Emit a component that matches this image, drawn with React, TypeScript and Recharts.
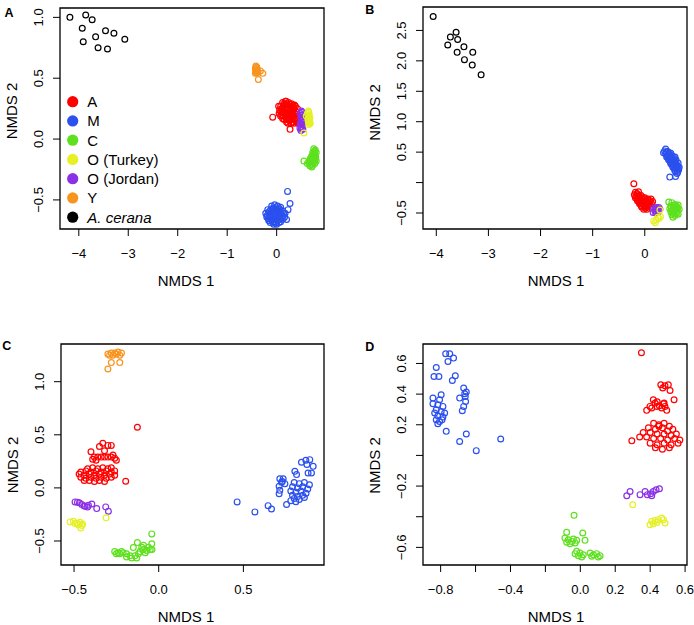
import React from "react";
import { ScatterChart, Scatter, XAxis, YAxis, ReferenceArea } from "recharts";

type P = [number, number];

const FONT = "'Liberation Sans', Arial, Helvetica, sans-serif";

const groupNames = ["A", "M", "C", "O (Turkey)", "O (Jordan)", "Y", "A. cerana"];
const groupColors = ["#FF0000", "#2B50EE", "#5EE01E", "#E5F025", "#8B30E6", "#F7941E", "#000000"];

// ---------------- Panel A ----------------
const pA_A: P[] = [
  [0.12, 0.30], [0.18, 0.31], [0.24, 0.30], [0.30, 0.29], [0.36, 0.28],
  [0.08, 0.27], [0.14, 0.27], [0.20, 0.28], [0.26, 0.27], [0.32, 0.26], [0.38, 0.27], [0.42, 0.25],
  [0.06, 0.24], [0.11, 0.23], [0.17, 0.25], [0.22, 0.24], [0.28, 0.23], [0.34, 0.24], [0.40, 0.22],
  [0.05, 0.21], [0.10, 0.20], [0.16, 0.21], [0.21, 0.20], [0.27, 0.21], [0.33, 0.20], [0.39, 0.19], [0.43, 0.19],
  [0.12, 0.17], [0.18, 0.18], [0.24, 0.17], [0.30, 0.18], [0.36, 0.17], [0.41, 0.16],
  [0.20, 0.14], [0.26, 0.15], [0.32, 0.14], [0.38, 0.15], [0.43, 0.13],
  [0.15, 0.29], [0.21, 0.29], [0.27, 0.285], [0.33, 0.275], [0.11, 0.255], [0.17, 0.26],
  [0.23, 0.255], [0.29, 0.25], [0.35, 0.255], [0.08, 0.225], [0.14, 0.225], [0.20, 0.22],
  [0.25, 0.225], [0.31, 0.22], [0.37, 0.21], [0.08, 0.19], [0.13, 0.19], [0.19, 0.195],
  [0.24, 0.19], [0.30, 0.195], [0.36, 0.19], [0.15, 0.16], [0.21, 0.16], [0.27, 0.165],
  [0.33, 0.16], [0.39, 0.17], [0.23, 0.13], [0.29, 0.13], [0.35, 0.13],
  [-0.08, 0.18], [0.27, 0.08], [0.19, 0.31], [0.04, 0.27],
];
const pA_M: P[] = [
  [-0.10, -0.55], [-0.04, -0.54], [0.02, -0.55], [0.08, -0.56],
  [-0.18, -0.58], [-0.12, -0.58], [-0.06, -0.57], [0.00, -0.58], [0.06, -0.58], [0.12, -0.59],
  [-0.22, -0.61], [-0.16, -0.61], [-0.10, -0.60], [-0.04, -0.61], [0.02, -0.61], [0.08, -0.62], [0.14, -0.61],
  [-0.20, -0.64], [-0.14, -0.64], [-0.08, -0.63], [-0.02, -0.64], [0.04, -0.64], [0.10, -0.65], [0.16, -0.64],
  [-0.16, -0.67], [-0.10, -0.67], [-0.04, -0.68], [0.02, -0.67], [0.08, -0.68],
  [-0.06, -0.70], [0.00, -0.70],
  [-0.07, -0.565], [-0.01, -0.565], [0.05, -0.57], [-0.15, -0.595], [-0.09, -0.59], [-0.03, -0.595],
  [0.03, -0.595], [0.09, -0.60], [-0.19, -0.625], [-0.13, -0.625], [-0.07, -0.62], [-0.01, -0.625],
  [0.05, -0.63], [0.11, -0.63], [-0.17, -0.655], [-0.11, -0.655], [-0.05, -0.655], [0.01, -0.655],
  [0.07, -0.66], [0.13, -0.655], [-0.13, -0.685], [-0.07, -0.685], [-0.01, -0.69], [0.05, -0.685],
  [0.22, -0.43], [0.27, -0.53], [0.23, -0.58], [0.17, -0.61], [0.20, -0.66],
];
const pA_C: P[] = [
  [0.75, -0.08], [0.78, -0.09], [0.73, -0.11], [0.77, -0.12], [0.80, -0.11], [0.71, -0.14],
  [0.75, -0.14], [0.79, -0.15], [0.68, -0.16], [0.72, -0.17], [0.76, -0.17], [0.80, -0.18],
  [0.65, -0.19], [0.69, -0.19], [0.73, -0.20], [0.77, -0.20], [0.67, -0.22], [0.71, -0.23],
  [0.76, -0.10], [0.74, -0.125], [0.78, -0.135], [0.70, -0.155], [0.74, -0.155], [0.78, -0.165],
  [0.67, -0.175], [0.71, -0.18], [0.75, -0.185], [0.69, -0.21], [0.73, -0.215],
  [0.55, -0.18], [0.62, -0.20],
];
const pA_OT: P[] = [
  [0.64, 0.23], [0.62, 0.21], [0.66, 0.20], [0.64, 0.18], [0.67, 0.17], [0.63, 0.16],
  [0.66, 0.15], [0.64, 0.14], [0.68, 0.13], [0.65, 0.12], [0.65, 0.22], [0.65, 0.19],
  [0.65, 0.165], [0.66, 0.135], [0.55, 0.05], [0.60, 0.19],
];
const pA_OJ: P[] = [
  [0.50, 0.23], [0.48, 0.21], [0.52, 0.20], [0.49, 0.18], [0.53, 0.17], [0.50, 0.15], [0.48, 0.13],
  [0.52, 0.12], [0.50, 0.10], [0.47, 0.09], [0.53, 0.08], [0.49, 0.07], [0.51, 0.22], [0.54, 0.14],
  [0.50, 0.195], [0.51, 0.16], [0.50, 0.125], [0.50, 0.085],
];
const pA_Y: P[] = [
  [-0.42, 0.60], [-0.40, 0.59], [-0.43, 0.58], [-0.41, 0.57], [-0.39, 0.57], [-0.42, 0.56],
  [-0.40, 0.55], [-0.43, 0.54], [-0.38, 0.55], [-0.41, 0.585], [-0.415, 0.565], [-0.405, 0.545],
  [-0.28, 0.54], [-0.33, 0.56], [-0.37, 0.49],
];
const pA_Cer: P[] = [
  [-4.18, 1.0], [-3.86, 1.02], [-3.73, 0.98], [-3.93, 0.91], [-3.91, 0.80], [-3.66, 0.84],
  [-3.61, 0.75], [-3.46, 0.89], [-3.42, 0.74], [-3.29, 0.87], [-3.07, 0.82],
];

// ---------------- Panel B ----------------
const pB_A: P[] = [
  [-0.18, -0.16], [-0.12, -0.15], [-0.20, -0.20], [-0.14, -0.20], [-0.08, -0.21],
  [-0.18, -0.25], [-0.12, -0.25], [-0.06, -0.26], [0.00, -0.25], [0.06, -0.27], [0.12, -0.27],
  [-0.14, -0.30], [-0.08, -0.30], [-0.02, -0.31], [0.04, -0.31], [0.10, -0.32], [0.15, -0.31],
  [-0.10, -0.35], [-0.04, -0.35], [0.02, -0.36], [0.08, -0.36], [0.13, -0.35],
  [-0.06, -0.40], [0.00, -0.40], [0.06, -0.40], [-0.02, -0.44], [0.04, -0.44],
  [-0.15, -0.18], [-0.17, -0.225], [-0.11, -0.23], [-0.05, -0.235], [-0.15, -0.275],
  [-0.09, -0.28], [-0.03, -0.28], [0.03, -0.29], [0.09, -0.295], [-0.11, -0.325],
  [-0.05, -0.33], [0.01, -0.335], [0.07, -0.34], [-0.07, -0.375], [-0.01, -0.38],
  [0.05, -0.38], [0.01, -0.42],
  [-0.21, -0.02],
];
const pB_M: P[] = [
  [0.38, 0.52], [0.44, 0.51], [0.50, 0.48], [0.40, 0.47], [0.46, 0.46], [0.52, 0.44], [0.58, 0.42],
  [0.42, 0.42], [0.48, 0.41], [0.54, 0.39], [0.60, 0.37], [0.46, 0.37], [0.52, 0.35], [0.58, 0.33],
  [0.64, 0.32], [0.50, 0.31], [0.56, 0.29], [0.62, 0.27], [0.66, 0.25], [0.54, 0.25], [0.60, 0.23],
  [0.65, 0.21], [0.58, 0.19], [0.63, 0.17], [0.36, 0.49], [0.40, 0.55],
  [0.41, 0.50], [0.47, 0.49], [0.43, 0.445], [0.49, 0.435], [0.55, 0.42], [0.45, 0.395],
  [0.51, 0.38], [0.57, 0.36], [0.49, 0.34], [0.55, 0.32], [0.61, 0.30], [0.53, 0.28],
  [0.59, 0.26], [0.64, 0.245], [0.57, 0.22], [0.62, 0.20],
  [0.48, 0.09], [0.59, 0.10], [0.62, 0.15],
];
const pB_C: P[] = [
  [0.46, -0.32], [0.52, -0.33], [0.58, -0.36], [0.64, -0.37], [0.50, -0.38], [0.56, -0.40],
  [0.62, -0.41], [0.48, -0.43], [0.54, -0.44], [0.60, -0.45], [0.66, -0.44], [0.50, -0.48],
  [0.56, -0.49], [0.62, -0.49], [0.52, -0.53], [0.58, -0.54], [0.64, -0.52], [0.54, -0.57],
  [0.55, -0.375], [0.61, -0.385], [0.51, -0.41], [0.57, -0.42], [0.63, -0.43], [0.53, -0.46],
  [0.59, -0.47], [0.55, -0.51], [0.61, -0.51],
];
const pB_OT: P[] = [
  [0.29, -0.45], [0.17, -0.63], [0.22, -0.61], [0.27, -0.59], [0.20, -0.66], [0.25, -0.57], [0.30, -0.56],
];
const pB_OJ: P[] = [
  [0.17, -0.42], [0.22, -0.41], [0.27, -0.41], [0.19, -0.46], [0.24, -0.45], [0.29, -0.44],
  [0.16, -0.49], [0.21, -0.50], [0.26, -0.48], [0.20, -0.435], [0.25, -0.43], [0.22, -0.475],
];
const pB_Y: P[] = [];
const pB_Cer: P[] = [
  [-4.06, 2.73], [-3.62, 2.47], [-3.73, 2.39], [-3.59, 2.35], [-3.78, 2.26], [-3.47, 2.23],
  [-3.60, 2.14], [-3.30, 2.14], [-3.46, 2.02], [-3.31, 1.93], [-3.14, 1.77],
];

// ---------------- Panel C ----------------
const pC_A: P[] = [
  [-0.42, 0.18], [-0.39, 0.19], [-0.36, 0.18], [-0.33, 0.19], [-0.30, 0.18], [-0.28, 0.19],
  [-0.46, 0.15], [-0.43, 0.16], [-0.40, 0.15], [-0.37, 0.16], [-0.34, 0.15], [-0.31, 0.16], [-0.28, 0.15], [-0.26, 0.16],
  [-0.47, 0.13], [-0.44, 0.12], [-0.41, 0.13], [-0.38, 0.12], [-0.35, 0.13], [-0.32, 0.12], [-0.29, 0.13], [-0.26, 0.12],
  [-0.46, 0.10], [-0.43, 0.09], [-0.40, 0.10], [-0.37, 0.09], [-0.34, 0.10], [-0.31, 0.09], [-0.28, 0.10],
  [-0.44, 0.07], [-0.41, 0.07], [-0.38, 0.06], [-0.35, 0.07], [-0.32, 0.06],
  [-0.33, 0.42], [-0.35, 0.39], [-0.30, 0.40], [-0.28, 0.40], [-0.40, 0.34], [-0.32, 0.35],
  [-0.38, 0.29], [-0.36, 0.29], [-0.34, 0.29], [-0.32, 0.29], [-0.30, 0.29], [-0.28, 0.29],
  [-0.26, 0.28], [-0.27, 0.31], [-0.25, 0.26], [-0.39, 0.27], [-0.37, 0.26],
  [-0.126, 0.571], [-0.195, 0.062],
];
const pC_M: P[] = [
  [0.463, -0.132], [0.568, -0.226], [0.646, -0.167], [0.666, -0.198], [0.755, -0.157],
  [0.715, 0.085], [0.735, 0.085], [0.725, 0.053], [0.711, 0.015], [0.715, -0.023], [0.711, -0.054], [0.745, 0.04], [0.73, 0.06],
  [0.80, 0.05], [0.83, 0.04], [0.86, 0.05], [0.89, 0.03], [0.79, 0.01], [0.82, 0.00], [0.85, 0.01], [0.88, -0.01],
  [0.78, -0.03], [0.81, -0.04], [0.84, -0.03], [0.87, -0.05], [0.79, -0.07], [0.82, -0.08], [0.85, -0.07],
  [0.80, -0.10], [0.83, -0.11], [0.78, -0.12], [0.81, -0.13], [0.86, -0.09],
  [0.843, 0.241], [0.869, 0.26], [0.892, 0.266], [0.912, 0.203], [0.882, 0.141], [0.902, 0.141],
  [0.804, 0.156], [0.814, 0.125], [0.875, 0.22],
];
const pC_C: P[] = [
  [-0.041, -0.433], [-0.041, -0.527], [-0.126, -0.515], [-0.15, -0.562], [-0.09, -0.54],
  [-0.26, -0.60], [-0.24, -0.61], [-0.22, -0.60], [-0.25, -0.62], [-0.23, -0.62], [-0.21, -0.61],
  [-0.19, -0.62], [-0.17, -0.64], [-0.19, -0.65], [-0.16, -0.66], [-0.14, -0.64], [-0.12, -0.62],
  [-0.11, -0.60], [-0.09, -0.58], [-0.07, -0.59], [-0.05, -0.58], [-0.10, -0.56], [-0.06, -0.56],
  [-0.04, -0.58], [-0.13, -0.66], [-0.08, -0.61],
];
const pC_OT: P[] = [
  [-0.523, -0.32], [-0.504, -0.315], [-0.483, -0.33], [-0.464, -0.324], [-0.454, -0.355],
  [-0.474, -0.346], [-0.494, -0.336], [-0.46, -0.377], [-0.311, -0.282], [-0.45, -0.34],
];
const pC_OJ: P[] = [
  [-0.494, -0.132], [-0.468, -0.141], [-0.454, -0.157], [-0.435, -0.173], [-0.415, -0.164],
  [-0.395, -0.151], [-0.366, -0.195], [-0.313, -0.179], [-0.297, -0.22], [-0.44, -0.17],
  [-0.48, -0.135], [-0.42, -0.18],
];
const pC_Y: P[] = [
  [-0.30, 1.26], [-0.28, 1.27], [-0.26, 1.27], [-0.24, 1.28], [-0.23, 1.25], [-0.27, 1.25],
  [-0.29, 1.25], [-0.25, 1.26], [-0.22, 1.27], [-0.28, 1.18], [-0.23, 1.18], [-0.30, 1.12],
];

// ---------------- Panel D ----------------
const pD_A: P[] = [
  [0.35, 0.67],
  [0.461, 0.461], [0.485, 0.455], [0.504, 0.461], [0.514, 0.424], [0.472, 0.44], [0.537, 0.363],
  [0.418, 0.363], [0.38, 0.294], [0.399, 0.32], [0.428, 0.342], [0.438, 0.32], [0.466, 0.309],
  [0.485, 0.32], [0.476, 0.337], [0.495, 0.294], [0.409, 0.309], [0.453, 0.324], [0.48, 0.342], [0.44, 0.35],
  [0.42, 0.21], [0.45, 0.20], [0.48, 0.21], [0.51, 0.19], [0.39, 0.18], [0.43, 0.17], [0.47, 0.18],
  [0.50, 0.16], [0.53, 0.17], [0.36, 0.15], [0.40, 0.15], [0.44, 0.14], [0.48, 0.14], [0.52, 0.13],
  [0.55, 0.14], [0.38, 0.12], [0.42, 0.11], [0.46, 0.11], [0.50, 0.10], [0.54, 0.11], [0.57, 0.10],
  [0.40, 0.08], [0.44, 0.07], [0.48, 0.08], [0.52, 0.07], [0.56, 0.08], [0.43, 0.05], [0.47, 0.04],
  [0.51, 0.05], [0.45, 0.19], [0.34, 0.12],
  [0.295, 0.095],
];
const pD_M: P[] = [
  [-0.771, 0.663], [-0.748, 0.663], [-0.726, 0.635], [-0.758, 0.613], [-0.825, 0.574],
  [-0.838, 0.515], [-0.81, 0.515], [-0.716, 0.52], [-0.733, 0.489],
  [-0.668, 0.44], [-0.653, 0.414], [-0.662, 0.402], [-0.691, 0.374], [-0.659, 0.385],
  [-0.657, 0.352], [-0.668, 0.32], [-0.676, 0.292],
  [-0.844, 0.374], [-0.797, 0.396], [-0.806, 0.363], [-0.844, 0.337], [-0.816, 0.331],
  [-0.787, 0.32], [-0.825, 0.298], [-0.797, 0.287], [-0.777, 0.277], [-0.834, 0.277],
  [-0.816, 0.259], [-0.787, 0.25], [-0.825, 0.233], [-0.806, 0.222], [-0.816, 0.207], [-0.792, 0.233],
  [-0.768, 0.157], [-0.653, 0.14], [-0.691, 0.091], [-0.596, 0.031], [-0.456, 0.107],
];
const pD_C: P[] = [
  [-0.036, -0.391], [-0.078, -0.502], [0.014, -0.506], [0.027, -0.554],
  [-0.088, -0.539], [-0.069, -0.55], [-0.049, -0.561], [-0.03, -0.571], [-0.078, -0.567],
  [-0.059, -0.576], [-0.04, -0.546], [-0.021, -0.554],
  [-0.021, -0.626], [-0.002, -0.637], [0.017, -0.648], [-0.011, -0.654], [0.008, -0.663], [-0.03, -0.641],
  [0.056, -0.637], [0.075, -0.648], [0.094, -0.641], [0.113, -0.654], [0.065, -0.658], [0.103, -0.663],
];
const pD_OT: P[] = [
  [0.30, -0.322], [0.399, -0.452], [0.409, -0.43], [0.428, -0.424], [0.447, -0.419],
  [0.466, -0.408], [0.476, -0.419], [0.485, -0.441], [0.418, -0.446], [0.438, -0.437],
];
const pD_OJ: P[] = [
  [0.266, -0.263], [0.285, -0.235], [0.342, -0.256], [0.371, -0.235], [0.384, -0.256],
  [0.403, -0.25], [0.418, -0.235], [0.434, -0.224], [0.453, -0.217], [0.409, -0.263],
];

// ---------------- Ticks ----------------
const aXTicks = [-4, -3, -2, -1, 0];
const aXTickLabels = ["\u22124", "\u22123", "\u22122", "\u22121", "0"];
const aYTicks = [-0.5, 0, 0.5, 1];
const aYTickLabels = ["\u22120.5", "0.0", "0.5", "1.0"];
const bXTicks = [-4, -3, -2, -1, 0];
const bXTickLabels = ["\u22124", "\u22123", "\u22122", "\u22121", "0"];
const bYTicks = [-0.5, 0, 0.5, 1, 1.5, 2, 2.5];
const bYTickLabels = ["\u22120.5", "", "0.5", "1.0", "1.5", "2.0", "2.5"];
const cXTicks = [-0.5, 0, 0.5];
const cXTickLabels = ["\u22120.5", "0.0", "0.5"];
const cYTicks = [-0.5, 0, 0.5, 1];
const cYTickLabels = ["\u22120.5", "0.0", "0.5", "1.0"];
const dXTicks = [-0.8, -0.6, -0.4, -0.2, 0, 0.2, 0.4, 0.6];
const dXTickLabels = ["\u22120.8", "", "\u22120.4", "", "0.0", "0.2", "0.4", "0.6"];
const dYTicks = [-0.6, -0.4, -0.2, 0, 0.2, 0.4, 0.6];
const dYTickLabels = ["\u22120.6", "", "\u22120.2", "", "0.2", "0.4", "0.6"];

type PanelCfg = {
  letter: string;
  left: number;
  top: number;
  width: number;
  height: number;
  plot: { l: number; r: number; t: number; b: number };
  xDomain: [number, number];
  yDomain: [number, number];
  xTicks: number[];
  xTickLabels: string[];
  yTicks: number[];
  yTickLabels: string[];
  series: P[][];
  letterPos: [number, number];
  xTitleDx: number;
  yTitleDy: number;
  legend?: boolean;
};

// series order: A, M, C, O(Turkey), O(Jordan), Y, A. cerana
const panels: PanelCfg[] = [
  {
    letter: "A", left: 0, top: 0, width: 347, height: 312,
    plot: { l: 60, r: 324, t: 8, b: 229 },
    xDomain: [-4.38, 0.957], yDomain: [-0.739, 1.077],
    xTicks: aXTicks, xTickLabels: aXTickLabels, yTicks: aYTicks, yTickLabels: aYTickLabels,
    series: [pA_A, pA_M, pA_C, pA_OT, pA_OJ, pA_Y, pA_Cer],
    letterPos: [9, 17.3], xTitleDx: -6, yTitleDy: -7.5, legend: true,
  },
  {
    letter: "B", left: 347, top: 0, width: 347, height: 312,
    plot: { l: 76, r: 340, t: 7, b: 229 },
    xDomain: [-4.255, 0.81], yDomain: [-0.763, 2.885],
    xTicks: bXTicks, xTickLabels: bXTickLabels, yTicks: bYTicks, yTickLabels: bYTickLabels,
    series: [pB_A, pB_M, pB_C, pB_OT, pB_OJ, pB_Y, pB_Cer],
    letterPos: [22.8, 13.5], xTitleDx: 1, yTitleDy: -5.5,
  },
  {
    letter: "C", left: 0, top: 312, width: 347, height: 313,
    plot: { l: 61, r: 324, t: 32, b: 253 },
    xDomain: [-0.577, 0.976], yDomain: [-0.726, 1.355],
    xTicks: cXTicks, xTickLabels: cXTickLabels, yTicks: cYTicks, yTickLabels: cYTickLabels,
    series: [pC_A, pC_M, pC_C, pC_OT, pC_OJ, pC_Y, []],
    letterPos: [6.7, 37.8], xTitleDx: -6.5, yTitleDy: 10.5,
  },
  {
    letter: "D", left: 347, top: 312, width: 347, height: 313,
    plot: { l: 76, r: 340, t: 32, b: 253 },
    xDomain: [-0.901, 0.611], yDomain: [-0.715, 0.727],
    xTicks: dXTicks, xTickLabels: dXTickLabels, yTicks: dYTicks, yTickLabels: dYTickLabels,
    series: [pD_A, pD_M, pD_C, pD_OT, pD_OJ, [], []],
    letterPos: [22.8, 38.8], xTitleDx: 1, yTitleDy: 11,
  },
];

const drawOrder = [1, 2, 0, 4, 3, 5, 6];

const circleShape = (color: string) => (props: any) => {
  const { cx, cy } = props;
  if (cx == null || cy == null) return <g />;
  return <circle cx={cx} cy={cy} r={2.9} fill="none" stroke={color} strokeWidth={1.2} />;
};

const findLabel = (ticks: number[], labels: string[], v: number) => {
  const i = ticks.findIndex((t) => Math.abs(t - v) < 1e-6);
  return i >= 0 ? labels[i] : "";
};

const makeXTick = (ticks: number[], labels: string[]) => (props: any) => {
  const { x, y, payload } = props;
  return (
    <text x={x} y={y + 22.2} textAnchor="middle" fontSize={13} fontFamily={FONT} fill="#000">
      {findLabel(ticks, labels, payload.value)}
    </text>
  );
};

const makeYTick = (ticks: number[], labels: string[]) => (props: any) => {
  const { x, y, payload } = props;
  const bx = x - 10.3;
  return (
    <text x={bx} y={y} transform={`rotate(-90 ${bx} ${y})`} textAnchor="middle" fontSize={13} fontFamily={FONT} fill="#000">
      {findLabel(ticks, labels, payload.value)}
    </text>
  );
};

function Panel({ cfg }: { cfg: PanelCfg }) {
  const { plot } = cfg;
  const xTitle = () => (
    <text x={(plot.l + plot.r) / 2 + cfg.xTitleDx} y={plot.b + 57} textAnchor="middle" fontSize={15} fontFamily={FONT} fill="#000">
      NMDS 1
    </text>
  );
  const yx = plot.l - 42.6;
  const yy = (plot.t + plot.b) / 2 + cfg.yTitleDy;
  const yTitle = () => (
    <text x={yx} y={yy} transform={`rotate(-90 ${yx} ${yy})`} textAnchor="middle" fontSize={15} fontFamily={FONT} fill="#000">
      NMDS 2
    </text>
  );
  return (
    <div style={{ position: "absolute", left: cfg.left, top: cfg.top, width: cfg.width, height: cfg.height }}>
      <ScatterChart
        width={cfg.width}
        height={cfg.height}
        margin={{ top: plot.t, right: cfg.width - plot.r, bottom: 0, left: 0 }}
      >
        <XAxis
          type="number"
          dataKey="x"
          domain={cfg.xDomain}
          allowDataOverflow
          ticks={cfg.xTicks}
          interval={0}
          height={cfg.height - plot.b}
          axisLine={false}
          tickLine={{ stroke: "#000", strokeWidth: 1 }}
          tickSize={7}
          tickMargin={0}
          stroke="#000"
          tick={makeXTick(cfg.xTicks, cfg.xTickLabels)}
          label={xTitle}
        />
        <YAxis
          type="number"
          dataKey="y"
          domain={cfg.yDomain}
          allowDataOverflow
          ticks={cfg.yTicks}
          interval={0}
          width={plot.l}
          axisLine={false}
          tickLine={{ stroke: "#000", strokeWidth: 1 }}
          tickSize={7}
          tickMargin={0}
          stroke="#000"
          tick={makeYTick(cfg.yTicks, cfg.yTickLabels)}
          label={yTitle}
        />
        <ReferenceArea
          x1={cfg.xDomain[0]}
          x2={cfg.xDomain[1]}
          y1={cfg.yDomain[0]}
          y2={cfg.yDomain[1]}
          fill="none"
          fillOpacity={0}
          stroke="#000"
          strokeWidth={1.3}
          ifOverflow="visible"
        />
        {drawOrder.map((gi) =>
          cfg.series[gi].length ? (
            <Scatter
              key={gi}
              name={groupNames[gi]}
              data={cfg.series[gi].map(([x, y]) => ({ x, y }))}
              shape={circleShape(groupColors[gi])}
              isAnimationActive={false}
            />
          ) : null
        )}
      </ScatterChart>
      <svg
        width={cfg.width}
        height={cfg.height}
        style={{ position: "absolute", left: 0, top: 0, pointerEvents: "none" }}
      >
        <text x={cfg.letterPos[0]} y={cfg.letterPos[1]} textAnchor="middle" fontSize={12.5} fontWeight="bold" fontFamily={FONT} fill="#000">
          {cfg.letter}
        </text>
        {cfg.legend &&
          groupNames.map((name, i) => (
            <g key={name}>
              <circle cx={72.7} cy={101.7 + i * 19.25} r={5.6} fill={groupColors[i]} />
              <text
                x={87.3}
                y={101.7 + i * 19.25 + 5.3}
                fontSize={15}
                fontFamily={FONT}
                fontStyle={i === 6 ? "italic" : "normal"}
                fill="#000"
              >
                {name}
              </text>
            </g>
          ))}
      </svg>
    </div>
  );
}

export default function App() {
  return (
    <div style={{ position: "absolute", left: 0, top: 0, width: 694, height: 625, background: "#fff", fontFamily: FONT }}>
      {panels.map((p) => (
        <Panel key={p.letter} cfg={p} />
      ))}
    </div>
  );
}
